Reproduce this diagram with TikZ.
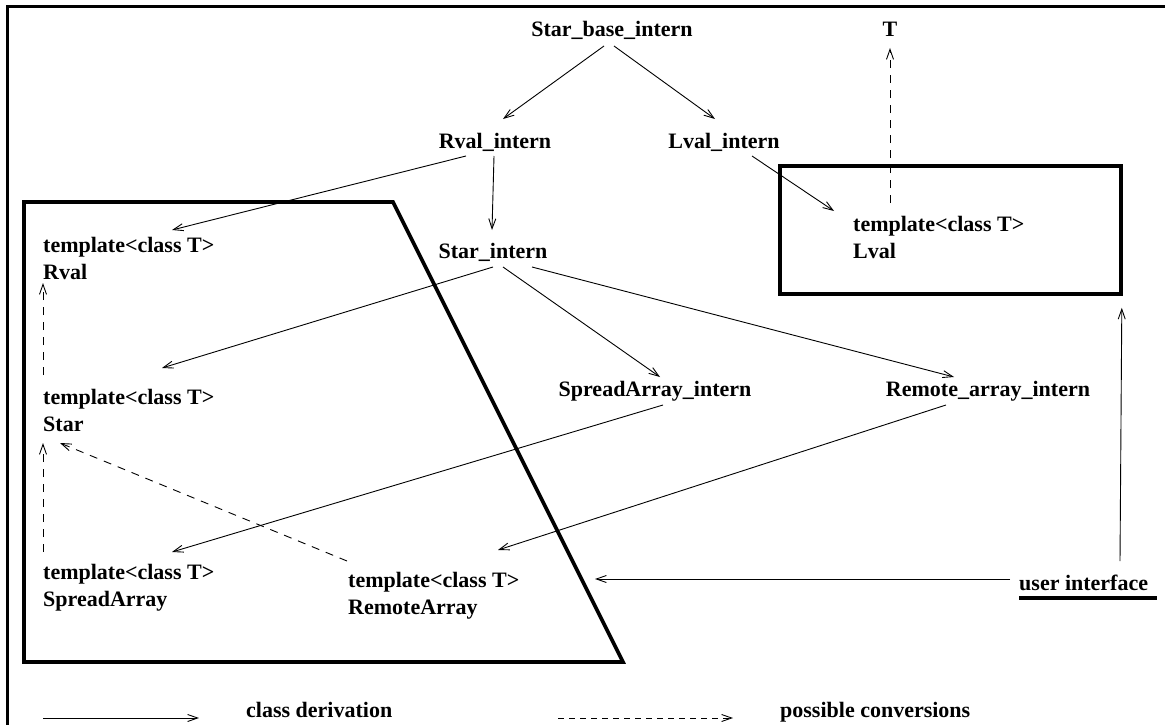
\documentclass[tikz,border=0pt]{standalone}
\usepackage{fontspec}
\setmainfont{Liberation Serif}
\usetikzlibrary{arrows.meta,calc}
\begin{document}
\begin{tikzpicture}[x=1pt,y=-1pt,
  cls/.style={font=\fontsize{22}{27.5}\selectfont\bfseries, inner sep=0pt},
  derive/.style={-{Straight Barb[length=10pt,width=7pt]}, line width=0.9pt},
  convert/.style={derive, dash pattern=on 8pt off 7pt},
  heavy/.style={line width=3.6pt, line join=miter},
  frame/.style={line width=3pt}]
\useasboundingbox (0,0) rectangle (1165,725);

% page frame (left and top edges)
\draw[frame] (7,725) -- (7,7) -- (1165,7);

% group outlines
\draw[heavy] (24,202) -- (393,202) -- (623,662) -- (24,662) -- cycle;
\node[draw, heavy, minimum width=341pt, minimum height=128pt, inner sep=0pt] (lbox) at (950.5,230) {};

% internal classes
\node[cls, anchor=base] (sbi) at (612,37) {Star\_base\_intern};
\node[cls, anchor=base] (T)   at (890,37) {T};
\node[cls, anchor=base] (rvi) at (495,148) {Rval\_intern};
\node[cls, anchor=base] (lvi) at (724,148) {Lval\_intern};
\node[cls, anchor=base] (si)  at (493,258) {Star\_intern};
\node[cls, anchor=base] (sai) at (655,396) {SpreadArray\_intern};
\node[cls, anchor=base] (rai) at (988,396) {Remote\_array\_intern};

% user templates
\node[cls, anchor=base west] (rvalT)   at (43,252) {\begin{tabular}[t]{@{}l@{}}template<class T>\\Rval\end{tabular}};
\node[cls, anchor=base west] (starT)   at (43,404) {\begin{tabular}[t]{@{}l@{}}template<class T>\\Star\end{tabular}};
\node[cls, anchor=base west] (spreadT) at (43,579) {\begin{tabular}[t]{@{}l@{}}template<class T>\\SpreadArray\end{tabular}};
\node[cls, anchor=base west] (remoteT) at (348,587) {\begin{tabular}[t]{@{}l@{}}template<class T>\\RemoteArray\end{tabular}};
\node[cls, anchor=base west] (lvalT)   at (853,231) {\begin{tabular}[t]{@{}l@{}}template<class T>\\Lval\end{tabular}};

% user interface label
\node[cls, anchor=base west] (ui) at (1019,590) {user interface};
\draw[heavy] ($(ui.base west)+(0,8)$) -- ++(138,0);

% class derivation
\draw[derive] ($(sbi.base)+(-8,9)$) -- ($(rvi.base)+(8,-29)$);
\draw[derive] ($(sbi.base)+(2,9)$) -- ($(lvi.base)+(-9,-29)$);
\draw[derive] ($(rvi.base)+(-29,8)$) -- ($(rvalT.base west)+(129,-22)$);
\draw[derive] ($(rvi.base)+(-1,8)$) -- ($(si.base)+(-1,-28)$);
\draw[derive] ($(lvi.base)+(28,8)$) -- ($(lvalT.base west)+(-19,-20)$);
\draw[derive] ($(si.base)+(0,9)$) -- ($(starT.base west)+(119,-36)$);
\draw[derive] ($(si.base)+(10,9)$) -- ($(sai.base)+(5,-19)$);
\draw[derive] ($(si.base)+(39,9)$) -- ($(rai.base)+(-34,-19)$);
\draw[derive] ($(sai.base)+(8,9)$) -- ($(spreadT.base west)+(129,-27)$);
\draw[derive] ($(rai.base)+(-42,9)$) -- ($(remoteT.base west)+(150,-37)$);
\draw[derive] ($(ui.base west)+(-9,-11)$) -- ($(remoteT.base west)+(247,-8)$);
\draw[derive] ($(ui.base west)+(101,-29)$) -- ($(lbox.south east)+(-1,12)$);

% possible conversions
\draw[convert] ($(lvalT.base west)+(37,-28)$) -- ($(T.base)+(0,11)$);
\draw[convert] ($(starT.base west)+(0,-29)$) -- ($(rvalT.base west)+(0,31)$);
\draw[convert] ($(spreadT.base west)+(0,-27)$) -- ($(starT.base west)+(0,39)$);
\draw[convert] ($(remoteT.base west)+(-1,-26)$) -- ($(starT.base west)+(17,39)$);

% legend
\coordinate (la) at (43,718);
\coordinate (lb) at (199,718);
\coordinate (lc) at (558,718);
\coordinate (ld) at (733,718);
\draw[derive] (la) -- (lb);
\draw[convert, dash pattern=on 6pt off 5pt] (lc) -- (ld);
\node[cls, anchor=base west] (lgA) at (246,717) {class derivation};
\node[cls, anchor=base west] (lgB) at (780,717) {possible conversions};
\end{tikzpicture}
\end{document}
